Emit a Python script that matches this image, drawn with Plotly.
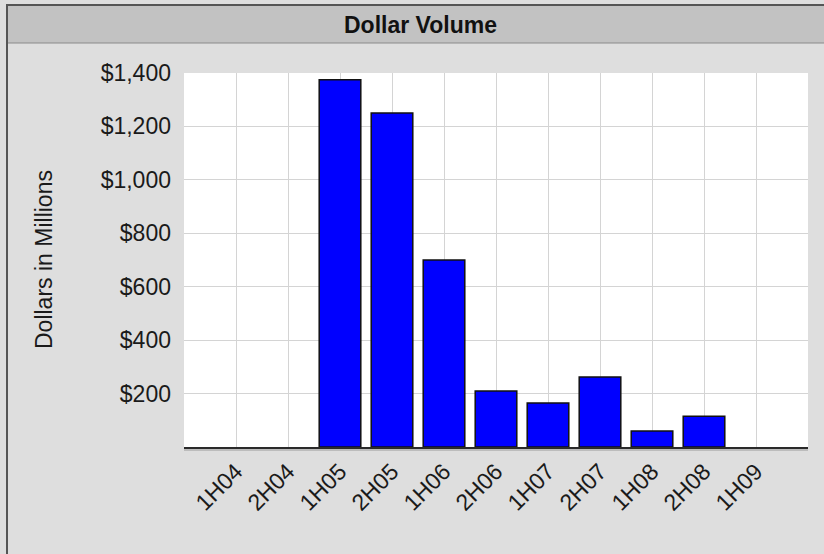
import plotly.graph_objects as go

categories = ["1H04", "2H04", "1H05", "2H05", "1H06", "2H06", "1H07", "2H07", "1H08", "2H08", "1H09"]
values = [None, None, 1375, 1250, 700, 210, 165, 262, 60, 115, None]
ytick_vals = [200, 400, 600, 800, 1000, 1200, 1400]
ytick_text = ["$200", "$400", "$600", "$800", "$1,000", "$1,200", "$1,400"]

W, H = 824, 554
L, R, T, B = 184, 808, 73, 447

def px(x):
    return (x - L) / (R - L)

def py(y):
    return (B - y) / (B - T)

FONT = "Liberation Sans, Arial, sans-serif"

fig = go.Figure()
fig.add_trace(go.Bar(
    x=categories, y=values, width=0.8,
    marker=dict(color="#0000ff", line=dict(color="#111111", width=1.5)),
))

fig.update_layout(
    width=W, height=H,
    margin=dict(l=L, r=W - R, t=T, b=H - B),
    paper_bgcolor="#dedede",
    plot_bgcolor="#ffffff",
    showlegend=False,
    font=dict(family=FONT, color="#1a1a1a", size=23),
    bargap=0.2,
    xaxis=dict(
        type="category", range=[-1, 11],
        showgrid=True, gridcolor="#d4d4d4", gridwidth=1,
        tickangle=-45, tickfont=dict(size=23),
        showline=True, linecolor="#2a2a2a", linewidth=2,
        ticks="", zeroline=False,
    ),
    yaxis=dict(
        range=[0, 1400], tickvals=ytick_vals, ticktext=ytick_text,
        showgrid=True, gridcolor="#d4d4d4", gridwidth=1,
        tickfont=dict(size=23), ticks="", ticklabelstandoff=12,
        zeroline=False, showline=False,
    ),
    shapes=[
        dict(type="rect", xref="paper", yref="paper",
             x0=px(7), x1=px(830), y0=py(5), y1=py(43),
             fillcolor="#c2c2c2", line=dict(color="#8a8a8a", width=1), layer="below"),
        dict(type="line", xref="paper", yref="paper",
             x0=px(7), x1=px(7), y0=py(4), y1=py(560),
             line=dict(color="#555555", width=2)),
        dict(type="line", xref="paper", yref="paper",
             x0=px(6), x1=px(830), y0=py(5), y1=py(5),
             line=dict(color="#555555", width=2)),
        dict(type="line", xref="paper", yref="paper",
             x0=0, x1=1, y0=py(450), y1=py(450),
             line=dict(color="#9a9a9a", width=1)),
    ],
    annotations=[
        dict(text="<b>Dollar Volume</b>", xref="paper", yref="paper",
             x=px(420), y=py(25), xanchor="center", yanchor="middle",
             showarrow=False, font=dict(size=23, color="#111111")),
        dict(text="Dollars in Millions", xref="paper", yref="paper",
             x=px(44), y=py(260), xanchor="center", yanchor="middle",
             textangle=-90, showarrow=False, font=dict(size=23, color="#1a1a1a")),
    ],
)

fig.write_html("out.html")
